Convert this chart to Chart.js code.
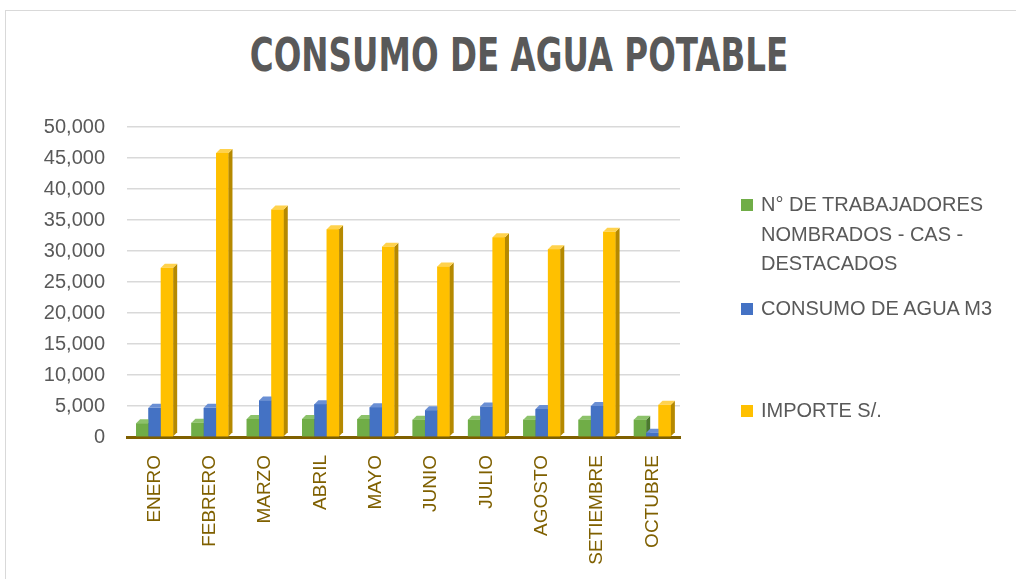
<!DOCTYPE html>
<html>
<head>
<meta charset="utf-8">
<script src="https://cdn.jsdelivr.net/npm/chart.js@4.4.1/dist/chart.umd.min.js"></script>
<style>
body{margin:0;overflow:hidden;background:#fff;width:1016px;height:579px;position:relative;}
#frame{position:absolute;left:5px;top:10px;width:1030px;height:600px;border:1px solid #d9d9d9;}
#title{position:absolute;left:0;width:1038px;top:27px;text-align:center;font-family:"Liberation Sans Narrow","DejaVu Sans Condensed",sans-serif;font-weight:bold;font-size:47px;color:#595959;transform:scaleX(0.77);transform-origin:519px 0;}
#wrap{position:absolute;left:0;top:0;width:1016px;height:579px;}
.leg{position:absolute;left:741px;width:272px;font-family:"Liberation Sans",sans-serif;font-size:20px;line-height:29.5px;color:#595959;}
.leg span.box{position:absolute;left:0;top:9px;width:12px;height:12px;}
.leg div{margin-left:20px;}
</style>
</head>
<body>
<div id="frame"></div>
<div id="title">CONSUMO DE AGUA POTABLE</div>
<div id="wrap"><canvas id="chart"></canvas></div>
<div id="legend"></div>
<script>
// chart data
const months = ['ENERO','FEBRERO','MARZO','ABRIL','MAYO','JUNIO','JULIO','AGOSTO','SETIEMBRE','OCTUBRE'];
const workers = [2200,2300,2900,2900,2900,2800,2800,2800,2800,2800];
const water = [4700,4700,5900,5300,4800,4300,4900,4500,5000,700];
const amount = [27300,45800,36700,33500,30700,27500,32200,30300,33100,5200];
const seriesNames = ['N° DE TRABAJADORES NOMBRADOS - CAS - DESTACADOS','CONSUMO DE AGUA M3','IMPORTE S/.'];
const colors = ['#70AD47','#4472C4','#FFC000'];
const sideColors = ['#4B7A2E','#2C5293','#B58900'];
const topColors = ['#8CC26A','#6A8FD4','#FFD24D'];

// draws a small side and top face on every bar, looks like the 3d columns
const depthBars = {
  id:'depthBars',
  afterDatasetsDraw(chart){
    const c = chart.ctx;
    const d = 4;
    months.forEach((m, i) => {
      chart.data.datasets.forEach((ds, k) => {
        const bar = chart.getDatasetMeta(k).data[i];
        const l = bar.x - bar.width/2, r = bar.x + bar.width/2;
        const t = bar.y, b = bar.base;
        c.fillStyle = colors[k];
        c.fillRect(l, t, r-l, b-t);
        c.fillStyle = sideColors[k];
        c.beginPath();
        c.moveTo(r,t); c.lineTo(r+d,t-d); c.lineTo(r+d,b-d); c.lineTo(r,b);
        c.closePath(); c.fill();
        c.fillStyle = topColors[k];
        c.beginPath();
        c.moveTo(l,t); c.lineTo(l+d,t-d); c.lineTo(r+d,t-d); c.lineTo(r,t);
        c.closePath(); c.fill();
      });
    });
  }
};

new Chart(document.getElementById('chart'), {
  type:'bar',
  data:{
    labels:months,
    datasets:[workers, water, amount].map((v, k) => ({
      label:seriesNames[k],
      data:v,
      backgroundColor:colors[k],
      barPercentage:1,
      categoryPercentage:0.67
    }))
  },
  options:{
    responsive:true,
    maintainAspectRatio:false,
    animation:false,
    layout:{padding:{top:127,right:336,left:0,bottom:0}},
    plugins:{legend:{display:false},tooltip:{enabled:false}},
    scales:{
      x:{
        grid:{display:false},
        border:{color:'#7F6000',width:3},
        ticks:{maxRotation:90,minRotation:90,padding:10,color:'#7F6000',font:{family:'Liberation Sans',size:19}},
        afterFit(s){ s.height = 142; }
      },
      y:{
        min:0,max:50000,
        border:{display:false},
        grid:{color:'#d9d9d9',lineWidth:1.5,drawTicks:false},
        ticks:{stepSize:5000,padding:22,color:'#595959',font:{family:'Liberation Sans',size:20}},
        afterFit(s){ s.width = 127; }
      }
    }
  },
  plugins:[depthBars]
});

// legend on the right
const tops = [190, 294, 396];
const leg = document.getElementById('legend');
seriesNames.forEach((name, k) => {
  const el = document.createElement('div');
  el.className = 'leg';
  el.style.top = tops[k] + 'px';
  el.innerHTML = '<span class="box" style="background:' + colors[k] + '"></span><div>' + name + '</div>';
  leg.appendChild(el);
});
</script>
</body>
</html>
